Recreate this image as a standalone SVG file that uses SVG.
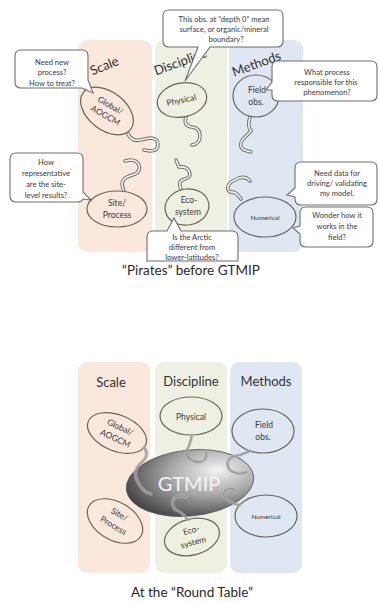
<svg xmlns="http://www.w3.org/2000/svg" width="379" height="602" viewBox="0 0 379 602">
<defs>
<style>
text{font-family:Lato,"Liberation Sans",sans-serif;fill:#3a3a3a;text-anchor:middle}
.pS{fill:#fbe8dc}.pD{fill:#eef1e2}.pM{fill:#dfe7f2}
.el{stroke:#6b645a;stroke-width:1.2}
.bub{fill:#fff;stroke:#6f6f6f;stroke-width:1.1}
.bt{font-size:7.6px}
.et{font-size:8.5px}
.ttl{font-size:13px;fill:#333}
.cap{font-size:13.5px;fill:#2a2a2a}
.to{fill:none;stroke:#707070;stroke-width:3.6;stroke-linecap:round;stroke-linejoin:round}
.ti{fill:none;stroke:#f4f4f0;stroke-width:1.6;stroke-linecap:round;stroke-linejoin:round}
.go{fill:none;stroke:#b8b8b8;stroke-width:3.4;stroke-linecap:round;stroke-linejoin:round;opacity:.7}
.gi{fill:none;stroke:#8a8a8a;stroke-width:1.4;stroke-linecap:round;stroke-linejoin:round;opacity:.7}
</style>
<radialGradient id="gt" cx="0.72" cy="0.35" r="0.85">
<stop offset="0" stop-color="#f4f4f4"/>
<stop offset="0.45" stop-color="#a4a4a4"/>
<stop offset="1" stop-color="#2c2c2c"/>
</radialGradient>
<path id="t1" d="M127,131 Q130,142 140,140 L150,138 Q158,138 158,145 Q158,151 150,151 L144,150"/>
<path id="t2" d="M124,191 Q119,181 127,177 L135,174 Q141,171 139,165 Q137,160 130,160 L125,161"/>
<path id="t3" d="M186,117 Q183,126 192,127 Q200,128 200,136 Q200,144 192,145"/>
<path id="t4" d="M181,189 Q177,181 185,179 Q192,177 189,171 Q186,166 179,167 L176,160"/>
<path id="t5" d="M250,117 Q247,126 251,131 L243,139 Q238,146 244,150 L251,152"/>
<path id="t6" d="M241,199 Q236,191 230,192 Q225,188 231,182 L239,178 Q246,176 250,181"/>
</defs>

<g id="top-panels">
<rect class="pS" x="78" y="40" width="74" height="212" rx="9"/>
<rect class="pD" x="155" y="40" width="72" height="212" rx="9"/>
<rect class="pM" x="229" y="40" width="74" height="212" rx="9"/>
<text class="ttl" transform="translate(106,70) rotate(-22)">Scale</text>
<text class="ttl" transform="translate(182,66) rotate(-20)">Discipline</text>
<text class="ttl" transform="translate(258,68) rotate(-20)">Methods</text>
</g>

<g id="top-connectors">
<use href="#t1" class="to"/><use href="#t1" class="ti"/>
<use href="#t2" class="to"/><use href="#t2" class="ti"/>
<use href="#t3" class="to"/><use href="#t3" class="ti"/>
<use href="#t4" class="to"/><use href="#t4" class="ti"/>
<use href="#t5" class="to"/><use href="#t5" class="ti"/>
<use href="#t6" class="to"/><use href="#t6" class="ti"/>
</g>

<g id="top-global">
<ellipse class="el pS" cx="0" cy="0" rx="30" ry="19" transform="translate(107,111) rotate(38)"/>
<text class="et" transform="translate(109,108) rotate(30)">Global/</text>
<text class="et" transform="translate(104,118) rotate(30)">AOGCM</text>
</g>
<g id="top-physical">
<ellipse class="el pD" cx="0" cy="0" rx="25" ry="17" transform="translate(182,100) rotate(-12)"/>
<text class="et" transform="translate(182,103) rotate(-12)">Physical</text>
</g>
<g id="top-field">
<ellipse class="el pM" cx="256" cy="96" rx="23" ry="21"/>
<text class="et" x="257" y="93">Field</text>
<text class="et" x="256" y="105">obs.</text>
</g>
<g id="top-site">
<ellipse class="el pS" cx="117" cy="209" rx="30" ry="18"/>
<text class="et" x="117" y="206">Site/</text>
<text class="et" x="117" y="218">Process</text>
</g>
<g id="top-eco">
<ellipse class="el pD" cx="187" cy="207" rx="22" ry="18" transform="rotate(-10 187 207)"/>
<text class="et" x="189" y="203">Eco-</text>
<text class="et" x="188" y="215">system</text>
</g>
<g id="top-numerical">
<ellipse class="el pM" cx="265" cy="217" rx="31" ry="20"/>
<text x="265" y="219.5" style="font-size:6.5px">Numerical</text>
</g>

<g id="bubble-need-new">
<path class="bub" d="M21,50 H82 Q88,50 88,56 V80 L93,93 L82,88 H21 Q15,88 15,82 V56 Q15,50 21,50 Z"/>
<text class="bt" x="52" y="65">Need new</text>
<text class="bt" x="52" y="75">process?</text>
<text class="bt" x="52" y="86">How to treat?</text>
</g>
<g id="bubble-depth">
<path class="bub" d="M169,10 H277 Q283,10 283,16 V41 Q283,47 277,47 H210 L185,81 L198,47 H169 Q163,47 163,41 V16 Q163,10 169,10 Z"/>
<text class="bt" x="224" y="22">This obs. at “depth 0” mean</text>
<text class="bt" x="224" y="32">surface, or organic/mineral</text>
<text class="bt" x="226" y="42">boundary?</text>
</g>
<g id="bubble-process">
<path class="bub" d="M278,61 H371 Q377,61 377,67 V95 Q377,101 371,101 H278 Q272,101 272,95 V90 L266,90 L272,82 V67 Q272,61 278,61 Z"/>
<text class="bt" x="327" y="75">What process</text>
<text class="bt" x="326" y="85">responsible for this</text>
<text class="bt" x="327" y="95">phenomenon?</text>
</g>
<g id="bubble-representative">
<path class="bub" d="M16,153 H77 Q83,153 83,159 V192 L91,200 L83,199 Q82,202 77,202 H16 Q10,202 10,196 V159 Q10,153 16,153 Z"/>
<text class="bt" x="46" y="165">How</text>
<text class="bt" x="46" y="176">representative</text>
<text class="bt" x="46" y="187">are the site-</text>
<text class="bt" x="46" y="198">level results?</text>
</g>
<g id="bubble-arctic">
<path class="bub" d="M153,231 H167 L174,218 L181,231 H232 Q238,231 238,237 V261 H147 V237 Q147,231 153,231 Z"/>
<text class="bt" x="192" y="240">Is the Arctic</text>
<text class="bt" x="192" y="250">different from</text>
<text class="bt" x="192" y="259.5">lower-latitudes?</text>
</g>
<g id="bubble-need-data">
<path class="bub" d="M301,162 H371 Q377,162 377,168 V199 Q377,205 371,205 H301 Q295,205 295,199 V197 L287,195 L295,188 V168 Q295,162 301,162 Z"/>
<text class="bt" x="337" y="176">Need data for</text>
<text class="bt" x="337" y="186">driving/ validating</text>
<text class="bt" x="337" y="196">my model.</text>
</g>
<g id="bubble-wonder">
<path class="bub" d="M306,207 H367 Q373,207 373,213 V241 Q373,247 367,247 H306 Q300,247 300,241 V234 L293,228 L300,226 V213 Q300,207 306,207 Z"/>
<text class="bt" x="337" y="218">Wonder how it</text>
<text class="bt" x="337" y="229">works in the</text>
<text class="bt" x="337" y="240">field?</text>
</g>
<text id="caption-top" class="cap" x="191" y="275">“Pirates” before GTMIP</text>

<g id="bottom-panels">
<rect class="pS" x="78" y="362" width="72" height="211" rx="9"/>
<rect class="pD" x="155" y="362" width="72" height="211" rx="9"/>
<rect class="pM" x="230" y="362" width="72" height="211" rx="9"/>
<text class="ttl" x="111" y="387">Scale</text>
<text class="ttl" x="191" y="386">Discipline</text>
<text class="ttl" x="266" y="386">Methods</text>
</g>

<g id="bottom-global">
<ellipse class="el pS" cx="0" cy="0" rx="31" ry="18" transform="translate(117,433) rotate(22)"/>
<text class="et" transform="translate(119,430) rotate(25)">Global/</text>
<text class="et" transform="translate(114,441) rotate(25)">AOGCM</text>
</g>
<g id="bottom-physical">
<ellipse class="el pD" cx="191" cy="416" rx="31" ry="19"/>
<text class="et" x="191" y="420">Physical</text>
</g>
<g id="bottom-field">
<ellipse class="el pM" cx="263" cy="431" rx="31" ry="22"/>
<text class="et" x="264" y="428">Field</text>
<text class="et" x="263" y="440">obs.</text>
</g>
<g id="bottom-site">
<ellipse class="el pS" cx="0" cy="0" rx="30" ry="19" transform="translate(115,521) rotate(30)"/>
<text class="et" transform="translate(118,517) rotate(30)">Site/</text>
<text class="et" transform="translate(112,528) rotate(30)">Process</text>
</g>
<g id="bottom-eco">
<ellipse class="el pD" cx="0" cy="0" rx="28" ry="18" transform="translate(192,537) rotate(-15)"/>
<text class="et" transform="translate(192,533) rotate(-15)">Eco-</text>
<text class="et" transform="translate(194,545) rotate(-15)">system</text>
</g>
<g id="bottom-numerical">
<ellipse class="el pM" cx="266" cy="516" rx="31" ry="21"/>
<text x="266" y="518.5" style="font-size:6.5px">Numerical</text>
</g>

<g id="gtmip">
<ellipse cx="0" cy="0" rx="64" ry="33" transform="translate(190,483) rotate(-6)" fill="url(#gt)" stroke="#555" stroke-width="0.8"/>
<text x="189" y="491" style="font-size:20px;fill:#f4f4f4">GTMIP</text>
</g>

<g id="bottom-connectors">
<path class="go" d="M144,447 Q150,455 142,462 Q132,470 137,480 Q142,492 151,494"/>
<path class="gi" d="M144,447 Q150,455 142,462 Q132,470 137,480 Q142,492 151,494"/>
<path class="go" d="M192,435 Q190,445 186,452 Q188,462 200,462 Q208,460 206,452"/>
<path class="gi" d="M192,435 Q190,445 186,452 Q188,462 200,462 Q208,460 206,452"/>
<path class="go" d="M250,451 Q242,455 232,457 Q224,462 230,470 Q238,476 247,472"/>
<path class="gi" d="M250,451 Q242,455 232,457 Q224,462 230,470 Q238,476 247,472"/>
<path class="go" d="M240,505 Q232,504 228,500 Q220,496 226,490 Q232,486 236,492"/>
<path class="gi" d="M240,505 Q232,504 228,500 Q220,496 226,490 Q232,486 236,492"/>
<path class="go" d="M188,520 Q182,512 176,510 Q170,505 174,498 Q180,494 186,497"/>
<path class="gi" d="M188,520 Q182,512 176,510 Q170,505 174,498 Q180,494 186,497"/>
</g>
<text id="caption-bottom" class="cap" x="192" y="597">At the “Round Table”</text>
</svg>
